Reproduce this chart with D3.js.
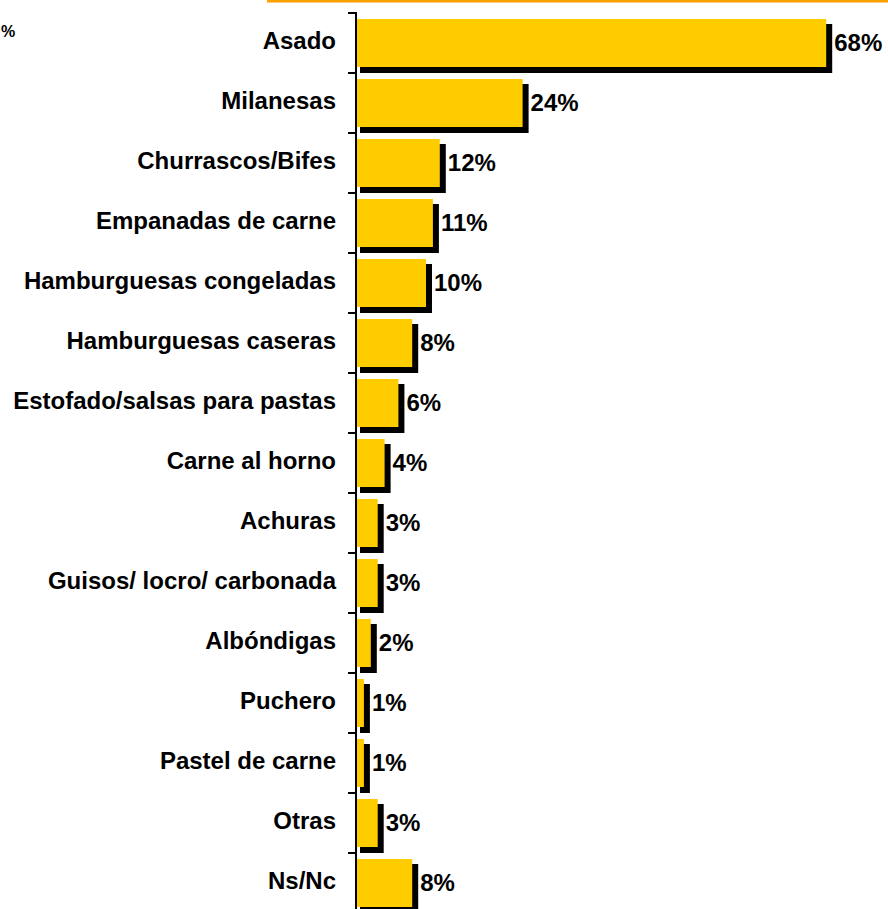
<!DOCTYPE html>
<html>
<head>
<meta charset="utf-8">
<script src="https://cdn.jsdelivr.net/npm/d3@7"></script>
<style>
  html, body { margin: 0; padding: 0; background: #fff; }
  svg { display: block; }
  text { font-family: "Liberation Sans", Arial, sans-serif; font-weight: bold; fill: #000; }
</style>
</head>
<body>
<script>
const categories = [
  "Asado", "Milanesas", "Churrascos/Bifes", "Empanadas de carne",
  "Hamburguesas congeladas", "Hamburguesas caseras", "Estofado/salsas para pastas",
  "Carne al horno", "Achuras", "Guisos/ locro/ carbonada", "Albóndigas",
  "Puchero", "Pastel de carne", "Otras", "Ns/Nc"
];
const values = [68, 24, 12, 11, 10, 8, 6, 4, 3, 3, 2, 1, 1, 3, 8];
const valueLabels = ["68%", "24%", "12%", "11%", "10%", "8%", "6%", "4%", "3%", "3%", "2%", "1%", "1%", "3%", "8%"];

const W = 888, H = 909;
const svg = d3.select("body").append("svg").attr("width", W).attr("height", H);

const axisX = 356;
const x = d3.scaleLinear().domain([0, 100]).range([357, 1047]);
const y = d3.scaleBand().domain(categories).range([13, 913]).paddingInner(0.2).paddingOuter(0.1);

// top orange rule
svg.append("rect").attr("x", 267).attr("y", 0).attr("width", W - 267).attr("height", 2.5).attr("fill", "#FFA000");

// "%" at top-left
svg.append("text").attr("x", 1).attr("y", 37).attr("text-anchor", "start")
  .style("font-size", "16px").text("%");

const rows = svg.append("g").selectAll("g").data(categories).join("g");

// shadows
rows.append("rect")
  .attr("x", x(0) + 3)
  .attr("y", d => y(d) + 5)
  .attr("width", (d, i) => x(values[i]) - x(0) + 3)
  .attr("height", y.bandwidth() + 1)
  .attr("fill", "#000");

// bars
rows.append("rect")
  .attr("x", x(0))
  .attr("y", d => y(d))
  .attr("width", (d, i) => x(values[i]) - x(0))
  .attr("height", y.bandwidth())
  .attr("fill", "#FFCC00");

// value labels
rows.append("text")
  .attr("x", (d, i) => x(values[i]) + 8)
  .attr("y", d => y(d) + y.bandwidth() / 2 + 2)
  .attr("dominant-baseline", "middle")
  .style("font-size", "24px")
  .text((d, i) => valueLabels[i]);

// category axis
const band = d3.scaleBand().domain(categories).range([13, 913]);
const axisG = svg.append("g").attr("transform", `translate(${axisX},0)`);
axisG.append("line").attr("x1", 0).attr("x2", 0).attr("y1", 12).attr("y2", H)
  .attr("stroke", "#000").attr("stroke-width", 2);
axisG.selectAll("line.tick").data(categories).join("line").attr("class", "tick")
  .attr("x1", -8).attr("x2", 0)
  .attr("y1", d => band(d)).attr("y2", d => band(d))
  .attr("stroke", "#000").attr("stroke-width", 2);

rows.append("text")
  .attr("x", 336)
  .attr("y", d => y(d) + y.bandwidth() / 2)
  .attr("text-anchor", "end")
  .attr("dominant-baseline", "middle")
  .style("font-size", "24px")
  .text(d => d);
</script>
</body>
</html>
